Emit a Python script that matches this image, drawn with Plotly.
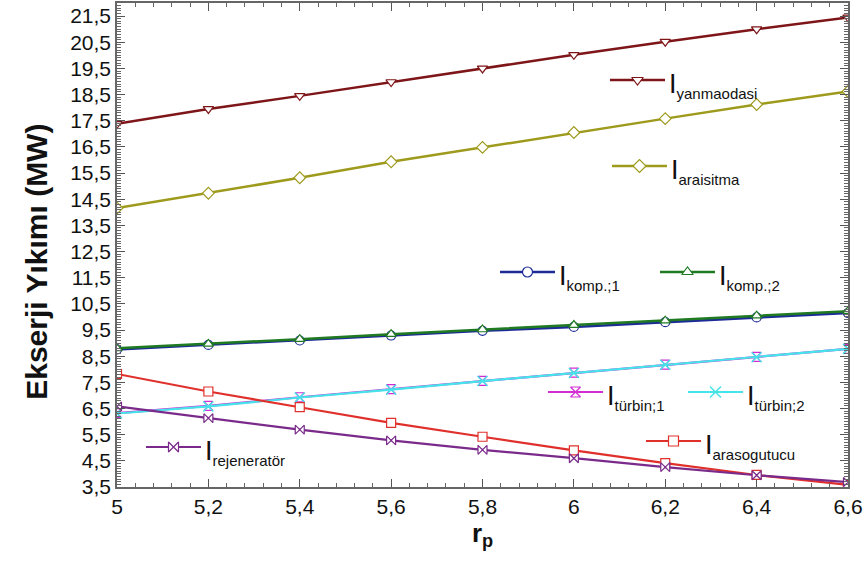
import plotly.graph_objects as go

rp = [5.0, 5.2, 5.4, 5.6, 5.8, 6.0, 6.2, 6.4, 6.6]

I_yanmaodasi = [17.38, 17.95, 18.45, 18.98, 19.50, 20.02, 20.52, 21.00, 21.45]
I_araisitma = [14.16, 14.73, 15.32, 15.93, 16.48, 17.05, 17.58, 18.12, 18.62]
I_komp1 = [8.76, 8.93, 9.10, 9.29, 9.47, 9.62, 9.80, 9.98, 10.15]
I_komp2 = [8.80, 8.97, 9.15, 9.34, 9.52, 9.69, 9.86, 10.05, 10.22]
I_turbin1 = [6.32, 6.60, 6.93, 7.24, 7.56, 7.87, 8.18, 8.47, 8.78]
I_turbin2 = [6.31, 6.58, 6.92, 7.22, 7.55, 7.86, 8.17, 8.46, 8.78]
I_arasogutucu = [7.82, 7.15, 6.55, 5.95, 5.42, 4.90, 4.41, 3.96, 3.58]
I_rejenerator = [6.58, 6.13, 5.69, 5.28, 4.92, 4.60, 4.26, 3.95, 3.69]

x_tickvals = [5.0, 5.2, 5.4, 5.6, 5.8, 6.0, 6.2, 6.4, 6.6]
x_ticktext = ["5", "5,2", "5,4", "5,6", "5,8", "6", "6,2", "6,4", "6,6"]
y_tickvals = [3.5, 4.5, 5.5, 6.5, 7.5, 8.5, 9.5, 10.5, 11.5, 12.5, 13.5, 14.5,
              15.5, 16.5, 17.5, 18.5, 19.5, 20.5, 21.5]
y_ticktext = ["3,5", "4,5", "5,5", "6,5", "7,5", "8,5", "9,5", "10,5", "11,5", "12,5",
              "13,5", "14,5", "15,5", "16,5", "17,5", "18,5", "19,5", "20,5", "21,5"]

series_names = ["yanmaodasi", "araisitma", "komp.;1", "komp.;2",
                "türbin;1", "türbin;2", "arasogutucu", "rejeneratör"]
series_values = [I_yanmaodasi, I_araisitma, I_komp1, I_komp2,
                 I_turbin1, I_turbin2, I_arasogutucu, I_rejenerator]

W, H = 868, 563
ML, MR, MT, MB = 117, 20, 3, 76

# style: color, symbol, line width
styles = [
    ("#7E1518", "triangle-down", 2.5),
    ("#9E9A1C", "diamond", 2.5),
    ("#1D2B98", "circle", 2.5),
    ("#1F7A22", "triangle-up", 2.5),
    ("#D22CD2", "hourglass", 2.2),
    ("#45E3EA", "x-thin", 2.2),
    ("#E0302C", "square", 2.2),
    ("#7A2A8A", "bowtie", 2.2),
]
# in-plot legend key placement (page pixels): line start x, line y
key_pos = [(610, 80), (612, 166), (500, 272), (660, 272),
           (548, 392), (688, 392), (646, 441), (146, 447)]
KEY_LEN = 55


def marker_for(color, sym, size):
    if sym == "x-thin":
        return dict(symbol=sym, size=size + 1, color=color, line=dict(color=color, width=1.5))
    return dict(symbol=sym, size=size, color="white", line=dict(color=color, width=1.2))


fig = go.Figure()
for name, data, (color, sym, lw) in zip(series_names, series_values, styles):
    fig.add_trace(go.Scatter(
        x=rp, y=data, mode="lines+markers", name="I" + name,
        line=dict(color=color, width=lw), marker=marker_for(color, sym, 9),
        showlegend=False,
    ))

annotations = []
for name, (color, sym, lw), (lx, ly) in zip(series_names, styles, key_pos):
    fig.add_trace(go.Scatter(
        x=[lx, lx + KEY_LEN], y=[ly, ly], mode="lines", xaxis="x2", yaxis="y2",
        line=dict(color=color, width=lw), showlegend=False, hoverinfo="skip",
    ))
    fig.add_trace(go.Scatter(
        x=[lx + KEY_LEN / 2], y=[ly], mode="markers", xaxis="x2", yaxis="y2",
        marker=marker_for(color, sym, 10), showlegend=False, hoverinfo="skip",
    ))
    annotations.append(dict(
        x=lx + KEY_LEN + 2, y=ly + 5, xref="x2", yref="y2",
        xanchor="left", yanchor="middle", showarrow=False,
        text="I<sub><span style='font-size:15px'>" + name + "</span></sub>",
        font=dict(family="Liberation Sans, Arial", size=27, color="#111"),
    ))

fig.update_layout(
    width=W, height=H,
    margin=dict(l=ML, r=MR, t=MT, b=MB, autoexpand=False),
    paper_bgcolor="white", plot_bgcolor="white",
    showlegend=False,
    font=dict(family="Liberation Sans, Arial", color="#111"),
    annotations=annotations,
    xaxis2=dict(overlaying="x", anchor="y2", range=[ML, W - MR], visible=False, fixedrange=True),
    yaxis2=dict(overlaying="y", anchor="x2", range=[H - MB, MT], visible=False, fixedrange=True),
)

fig.layout.xaxis.update(
    range=[5.0, 6.6], tickvals=x_tickvals, ticktext=x_ticktext, automargin=False,
    tickfont=dict(size=21, color="#111"),
    ticks="inside", ticklen=8, tickcolor="#555", tickwidth=1,
    minor=dict(ticks="inside", ticklen=4, dtick=0.04, tick0=5.0, tickcolor="#666"),
    showline=True, linecolor="#666", linewidth=1.5, mirror="allticks",
    showgrid=False, zeroline=False,
    title=dict(text="<b>r<sub>p</sub></b>", font=dict(size=26, color="#111"), standoff=2),
)
fig.layout.yaxis.update(
    range=[3.5, 22.0], tickvals=y_tickvals, ticktext=y_ticktext, automargin=False,
    tickfont=dict(size=21, color="#111"),
    ticks="inside", ticklen=8, tickcolor="#555", tickwidth=1,
    minor=dict(ticks="inside", ticklen=4, dtick=0.1, tick0=3.5, tickcolor="#666"),
    showline=True, linecolor="#666", linewidth=1.5, mirror="allticks",
    showgrid=False, zeroline=False,
    title=dict(text="<b>Ekserji Yıkımı (MW)&nbsp;&nbsp;&nbsp;&nbsp;</b>",
               font=dict(size=30, color="#111"), standoff=14),
)

fig.write_html("out.html", config={"displayModeBar": False},
               post_script="document.body.style.margin='0px';")
